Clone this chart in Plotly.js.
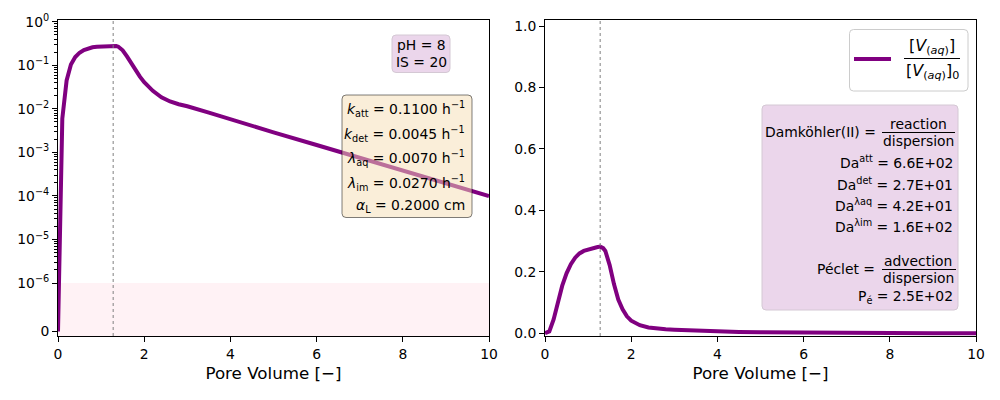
<!DOCTYPE html>
<html><head><meta charset="utf-8">
<script src="https://cdn.plot.ly/plotly-3.0.1.min.js"></script>
<style>body{margin:0;background:#fff;} #chart{width:1000px;height:400px;}</style>
</head><body><div id="chart"></div>
<script>
// ---------------- data ----------------
const poreVolume = [0, 0.1, 0.2, 0.3, 0.4, 0.5, 0.6, 0.7, 0.8, 0.9, 1.0, 1.1, 1.2, 1.28, 1.35, 1.4, 1.5, 1.6, 1.7, 1.8, 1.9, 2.0, 2.2, 2.4, 2.6, 2.8, 3.0, 3.5, 4.0, 4.5, 5.0, 6.0, 7.0, 8.0, 9.0, 10.0];
const concRatio = [0, 0.006, 0.045, 0.105, 0.155, 0.195, 0.225, 0.246, 0.260, 0.268, 0.273, 0.277, 0.280, 0.282, 0.277, 0.268, 0.222, 0.160, 0.110, 0.078, 0.055, 0.041, 0.026, 0.0185, 0.0148, 0.0128, 0.0115, 0.0082, 0.0057, 0.0040, 0.0029, 0.00148, 0.00076, 0.00039, 0.000197, 0.0001];
const pulseEnd = 1.28;
const xTickValues = [0, 2, 4, 6, 8, 10];
const logTickValues = [0, 1e-6, 1e-5, 1e-4, 1e-3, 1e-2, 1e-1, 1];
const logTickLabels = ['0', '10<sup>−6</sup>', '10<sup>−5</sup>', '10<sup>−4</sup>', '10<sup>−3</sup>', '10<sup>−2</sup>', '10<sup>−1</sup>', '10<sup>0</sup>'];
const linTickValues = [0, 0.2, 0.4, 0.6, 0.8, 1.0];
const chemistryLines = ['pH = 8', 'IS = 20'];
const paramLines = [
  '<i>k</i><sub>att</sub> = 0.1100 h<sup>−1</sup>',
  '<i>k</i><sub>det</sub> = 0.0045 h<sup>−1</sup>',
  '<i>λ</i><sub>aq</sub> = 0.0070 h<sup>−1</sup>',
  '<i>λ</i><sub>im</sub> = 0.0270 h<sup>−1</sup>',
  '<i>α</i><sub>L</sub> = 0.2000 cm'
];
const damkohlerLines = [
  'Da<sup>att</sup> = 6.6E+02',
  'Da<sup>det</sup> = 2.7E+01',
  'Da<sup>λaq</sup> = 4.2E+01',
  'Da<sup>λim</sup> = 1.6E+02'
];
const pecletLine = 'P<sub>é</sub> = 2.5E+02';
const xTitle = 'Pore Volume [−]';

// ---------------- symlog emulation ----------------
const LINTHRESH = 1e-6, LINSCALE = 1 / (1 - 1 / 10);
function symlog(v) {
  const a = Math.abs(v);
  if (a <= LINTHRESH) return v / LINTHRESH * LINSCALE;
  return Math.sign(v) * (LINSCALE + Math.log10(a / LINTHRESH));
}
const minorVals = [];
for (let k = -6; k <= -1; k++) for (let m = 2; m <= 9; m++) minorVals.push(symlog(m * Math.pow(10, k)));

// ---------------- helpers ----------------
const FONT = 'DejaVu Sans';
const PURPLE = '#800080';
const X = v => v / 1000, Y = v => 1 - v / 400;
function rr(x0, y0, x1, y1, r) {
  const f = (a, b) => X(a).toFixed(5) + ',' + Y(b).toFixed(5);
  return `M ${f(x0 + r, y0)} L ${f(x1 - r, y0)} Q ${f(x1, y0)} ${f(x1, y0 + r)} L ${f(x1, y1 - r)} Q ${f(x1, y1)} ${f(x1 - r, y1)} L ${f(x0 + r, y1)} Q ${f(x0, y1)} ${f(x0, y1 - r)} L ${f(x0, y0 + r)} Q ${f(x0, y0)} ${f(x0 + r, y0)} Z`;
}
function ann(text, x, y, xanchor, size) {
  return {text: text, xref: 'paper', yref: 'paper', x: X(x), y: Y(y), xanchor: xanchor || 'center', yanchor: 'middle',
    showarrow: false, font: {family: FONT, size: size || 13.9, color: '#000'}, align: xanchor === 'right' ? 'right' : 'center'};
}
function hline(x0, x1, y, color, width) {
  return {type: 'line', xref: 'paper', yref: 'paper', x0: X(x0), x1: X(x1), y0: Y(y), y1: Y(y), line: {color: color || '#000', width: width || 1}, layer: 'above'};
}

// ---------------- traces ----------------
const traces = [
  {x: poreVolume, y: concRatio.map(symlog), xaxis: 'x', yaxis: 'y', mode: 'lines', line: {color: PURPLE, width: 4}, showlegend: false, hoverinfo: 'skip'},
  {x: poreVolume, y: concRatio, xaxis: 'x2', yaxis: 'y2', mode: 'lines', line: {color: PURPLE, width: 4}, showlegend: false, hoverinfo: 'skip'}
];

const axisCommon = {showline: true, linecolor: '#000', linewidth: 1, mirror: true, ticks: 'outside', ticklen: 5, tickwidth: 1, tickcolor: '#000',
  showgrid: false, zeroline: false, tickfont: {family: FONT, size: 13.9, color: '#000'}};

const xaxisCommon = Object.assign({}, axisCommon, {range: [0, 10], tickmode: 'array', tickvals: xTickValues, ticktext: xTickValues.map(String),
  title: {text: xTitle, font: {family: FONT, size: 16.7, color: '#000'}, standoff: 6}});

const shapes = [
  // linear region of the symlog axis
  {type: 'rect', xref: 'x domain', yref: 'y', x0: 0, x1: 1, y0: -0.105, y1: symlog(1e-6), fillcolor: 'rgba(255,192,203,0.2)', line: {width: 0}, layer: 'below'},
  // pulse end markers
  {type: 'line', xref: 'x', yref: 'y domain', x0: pulseEnd, x1: pulseEnd, y0: 0, y1: 1, line: {color: 'grey', width: 1, dash: 'dot'}, layer: 'above'},
  {type: 'line', xref: 'x2', yref: 'y2 domain', x0: pulseEnd, x1: pulseEnd, y0: 0, y1: 1, line: {color: 'grey', width: 1, dash: 'dot'}, layer: 'above'},
  // boxes
  {type: 'path', xref: 'paper', yref: 'paper', path: rr(392, 35, 450, 72.5, 4), fillcolor: 'rgba(128,0,128,0.16)', line: {color: 'rgb(212,200,212)', width: 1}, layer: 'above'},
  {type: 'path', xref: 'paper', yref: 'paper', path: rr(342, 95, 472, 217.5, 4), fillcolor: 'rgba(245,222,179,0.5)', line: {color: 'rgba(0,0,0,0.5)', width: 1}, layer: 'above'},
  {type: 'path', xref: 'paper', yref: 'paper', path: rr(762, 105, 958, 310, 4), fillcolor: 'rgba(128,0,128,0.16)', line: {color: 'rgb(212,200,212)', width: 1}, layer: 'above'},
  {type: 'path', xref: 'paper', yref: 'paper', path: rr(849.5, 29.5, 968, 91, 4), fillcolor: 'rgba(255,255,255,0.8)', line: {color: 'rgb(204,204,204)', width: 1}, layer: 'above'},
  // legend sample and fraction bars
  hline(854, 891, 59, PURPLE, 4),
  hline(904, 960, 58.5),
  hline(882, 955, 132.5),
  hline(882, 956, 269.5)
];

const paramY = [108.5, 133.5, 158, 182.5, 206];
const daY = [162, 183.5, 205, 226];
const annotations = [
  ann(chemistryLines[0], 421, 45),
  ann(chemistryLines[1], 421, 62),
  ...paramLines.map((t, i) => ann(t, 467, paramY[i], 'right')),
  ann('Damköhler(II) =', 878, 132, 'right'),
  ann('reaction', 918, 124),
  ann('dispersion', 918, 141),
  ...damkohlerLines.map((t, i) => ann(t, 955, daY[i], 'right')),
  ann('Péclet =', 877, 268.5, 'right'),
  ann('advection', 918, 261),
  ann('dispersion', 918, 278),
  ann(pecletLine, 955, 297, 'right'),
  ann('[<i>V</i><sub>(<i>aq</i>)</sub>]', 932, 47, 'center', 16),
  ann('[<i>V</i><sub>(<i>aq</i>)</sub>]<sub>0</sub>', 932, 72, 'center', 16)
];

const layout = {
  width: 1000, height: 400,
  margin: {l: 0, r: 0, t: 0, b: 0},
  paper_bgcolor: '#fff', plot_bgcolor: '#fff',
  showlegend: false,
  font: {family: FONT, size: 13.9, color: '#000'},
  xaxis: Object.assign({}, xaxisCommon, {domain: [0.058, 0.489], anchor: 'y'}),
  xaxis2: Object.assign({}, xaxisCommon, {domain: [0.545, 0.976], anchor: 'y2'}),
  yaxis: Object.assign({}, axisCommon, {domain: [0.16, 0.95], anchor: 'x', range: [-0.105, symlog(1.1)],
    tickmode: 'array', tickvals: logTickValues.map(symlog), ticktext: logTickLabels,
    minor: {tickmode: 'array', tickvals: minorVals, ticks: 'outside', ticklen: 3, tickwidth: 1, tickcolor: '#000', showgrid: false}}),
  yaxis2: Object.assign({}, axisCommon, {domain: [0.16, 0.95], anchor: 'x2', range: [-0.009, 1.02],
    tickmode: 'array', tickvals: linTickValues, ticktext: linTickValues.map(v => v.toFixed(1))}),
  shapes: shapes,
  annotations: annotations
};

Plotly.newPlot('chart', traces, layout, {staticPlot: true, displayModeBar: false});
</script>
</body></html>
